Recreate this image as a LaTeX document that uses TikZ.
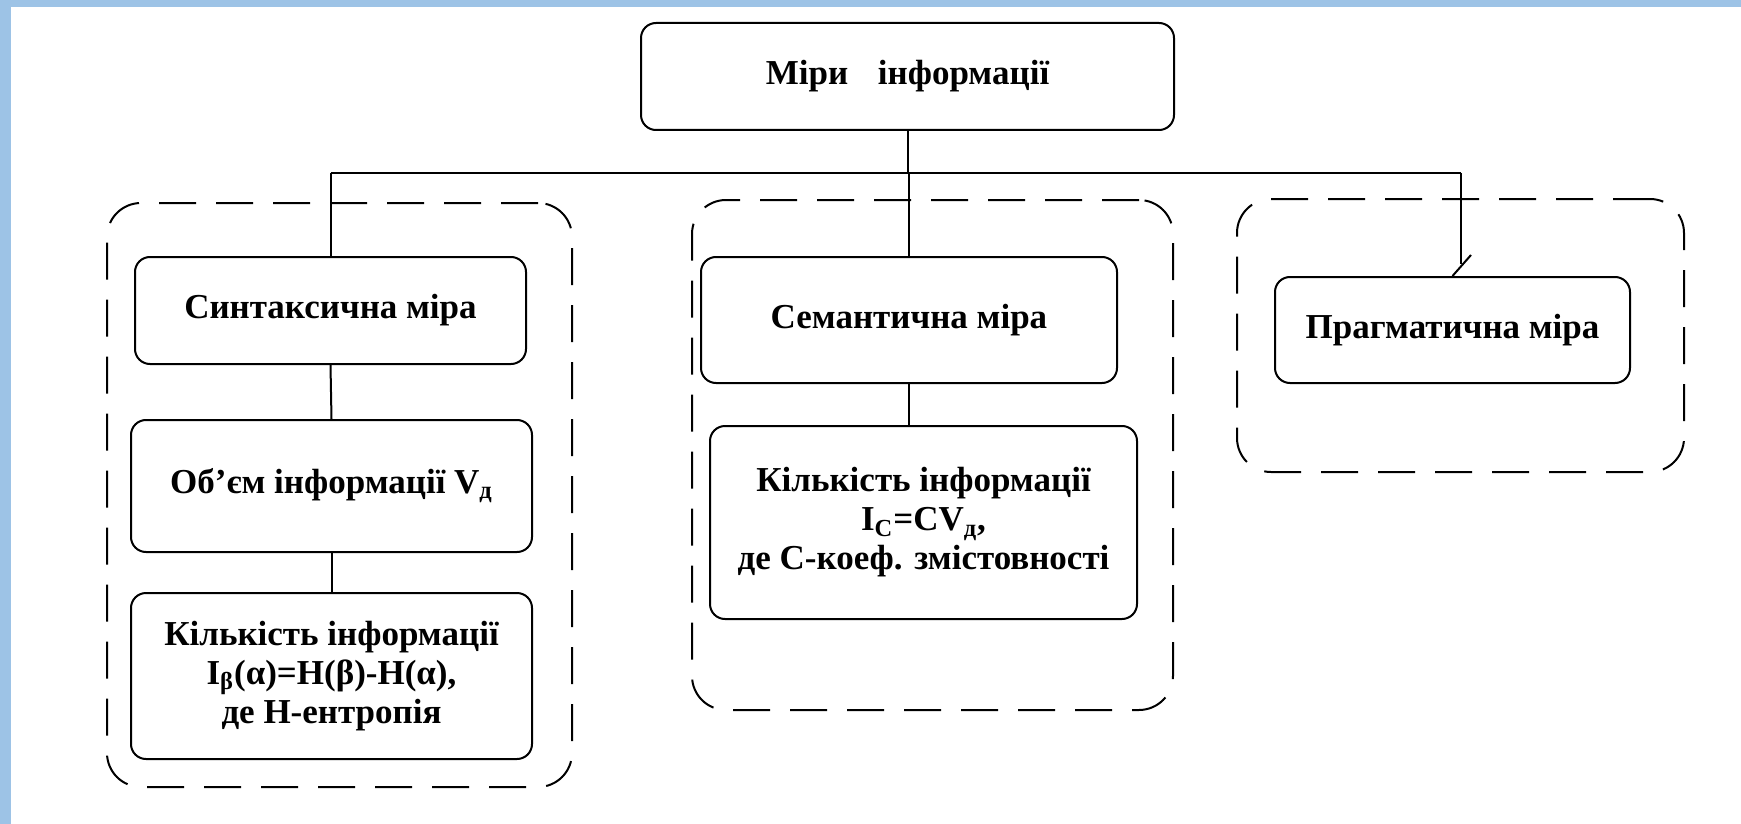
\documentclass[tikz,border=0pt]{standalone}
\usepackage{fontspec}
\setmainfont{Liberation Serif}
\usepackage{tikz}
\definecolor{frameblue}{HTML}{9DC3E6}

\begin{document}
\begin{tikzpicture}[x=0.5pt, y=-0.5pt, line width=1pt,
  font=\fontsize{17.5}{19.5}\selectfont\bfseries,
  box/.style={draw, rounded corners=7.5pt, align=center, inner sep=0pt},
  grp/.style={draw, dash pattern=on 18.5pt off 10pt, rounded corners=17pt, inner sep=0pt}]
  \useasboundingbox (0,0) rectangle (1741,824);
  \fill[frameblue] (0,0) rectangle (1741,7);
  \fill[frameblue] (0,0) rectangle (11,824);
  % dashed groups
  \node[grp, minimum width=232.5pt, minimum height=292pt] (grpL) at (339.5,495) {};
  \node[grp, minimum width=240.5pt, minimum height=255pt] (grpM) at (932.5,455) {};
  \node[grp, minimum width=223.5pt, minimum height=136.5pt] (grpR) at (1460.5,335.5) {};
  % boxes
  \node[box, minimum width=266.5pt, minimum height=53.5pt] (mira) at (907.5,76.5) {Міри\hspace{0.85em}інформації};
  \node[box, minimum width=195.5pt, minimum height=53.5pt] (synt) at (330.5,310.5) {Синтаксична міра};
  \node[box, minimum width=200.5pt, minimum height=66pt] (obsyah) at (331.5,486) {Об'єм інформації V\textsubscript{д}};
  \node[box, minimum width=200.5pt, minimum height=83pt] (kilkL) at (331.5,676)
    {Кількість інформації\\I\textsubscript{β}(α)=H(β)-H(α),\\де H-ентропія};
  \node[box, minimum width=208pt, minimum height=63pt] (sem) at (909,320) {Семантична міра};
  \node[box, minimum width=213.5pt, minimum height=96.5pt] (kilkM) at (923.5,522.5)
    {Кількість інформації\\I\textsubscript{C}=CV\textsubscript{д},\\де С-коеф. змістовності};
  \node[box, minimum width=177.5pt, minimum height=53pt] (prag) at (1452.5,330) {Прагматична міра};
  % connectors
  \coordinate (bus) at (907.5,173);
  \coordinate (busR) at (1461,173);
  \coordinate (kinkR) at (1461,264);
  \coordinate (tickR) at (1471,255);
  \draw (mira.south) -- (bus);
  \draw (synt.north |- bus) -- (busR);
  \draw (synt.north |- bus) -- (synt.north);
  \draw (sem.north |- bus) -- (sem.north);
  \draw (busR) -- (kinkR);
  \draw (tickR) -- (prag.north);
  \draw (synt.south) -- (obsyah.north);
  \draw (obsyah.south) -- (kilkL.north);
  \draw (sem.south) -- (sem.south |- kilkM.north);
\end{tikzpicture}
\end{document}
